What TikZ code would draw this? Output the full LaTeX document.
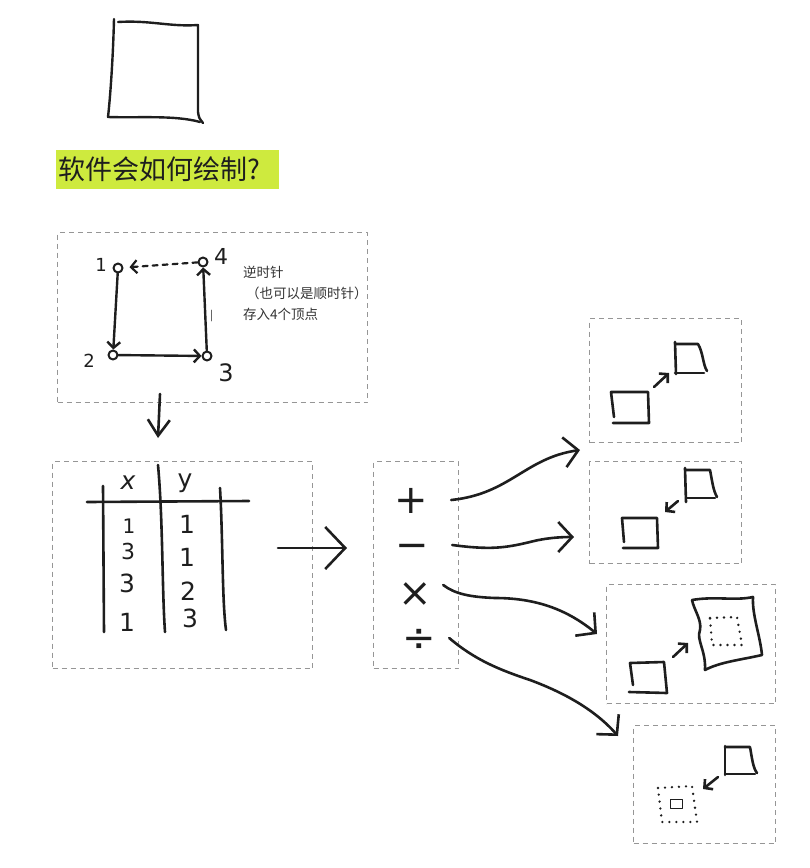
\documentclass[tikz,border=0pt]{standalone}
\usepackage{fontspec}
\newfontfamily\cjk{Noto Sans CJK SC}
\newfontfamily\kyhieu{DejaVu Sans}
\usetikzlibrary{arrows.meta}
\definecolor{nenvang}{RGB}{206,234,62}
\definecolor{xamnet}{RGB}{150,150,150}
\definecolor{mucden}{RGB}{30,30,30}
\begin{document}
\begin{tikzpicture}[x=1pt, y=-1pt, line join=round, line cap=round,
 but/.style={draw=mucden, line width=2.6pt},
 khung/.style={draw=xamnet, line width=1.1pt, dash pattern=on 5pt off 4pt, line cap=butt, rectangle, inner sep=0pt, anchor=north west},
 chamtron/.style={draw=mucden, line width=2.6pt, dash pattern=on 0pt off 7pt, line cap=round},
 dinh/.style={circle, draw=mucden, line width=2pt, inner sep=0pt, minimum size=9pt},
 so/.style={font=\kyhieu\fontsize{18}{18}\selectfont, text=mucden, inner sep=0pt},
 sobang/.style={font=\kyhieu\fontsize{25}{25}\selectfont, text=mucden, inner sep=0pt},
 pheptinh/.style={font=\kyhieu\fontsize{40}{40}\selectfont, text height=27pt, text depth=0pt, minimum width=80pt, inner sep=0pt, text=mucden},
 nho/.style={-{Straight Barb[length=6pt,width=13pt]}},
 muicong/.style={-{Straight Barb[length=14pt,width=30pt]}}]
\useasboundingbox (0,0) rectangle (810,868);
% hinh vuong ve tay o tren
\draw[but, line width=2.4pt] (118,22) .. controls (150,20) and (170,27) .. (198,25) -- (198,112) .. controls (199,118) .. (203,123);
\draw[but, line width=2.4pt] (114,19) .. controls (113,60) and (110,100) .. (108,117) .. controls (140,118) and (175,115) .. (200,122);
% tieu de
\node[fill=nenvang, anchor=north west, minimum height=39pt, text width=219pt, inner xsep=2pt, inner ysep=0pt, align=left, font=\cjk\fontsize{27}{27}\selectfont, text=mucden] (tieude) at (56,150) {软件会如何绘制?};
% cac khung net dut
\node[khung, minimum width=310pt, minimum height=170pt] (khungdinh) at (57,232) {};
\node[khung, minimum width=260pt, minimum height=207pt] (khungbang) at (52,461) {};
\node[khung, minimum width=85pt, minimum height=207pt] (khungphep) at (373,461) {};
\node[khung, minimum width=152pt, minimum height=124pt] (khungA) at (589,318) {};
\node[khung, minimum width=152pt, minimum height=102pt] (khungB) at (589,461) {};
\node[khung, minimum width=169pt, minimum height=119pt] (khungC) at (606,584) {};
\node[khung, minimum width=142pt, minimum height=118pt] (khungD) at (633,725) {};
% 4 dinh
\node[dinh] (v1) at (118,268) {};
\node[dinh] (v2) at (113,355) {};
\node[dinh] (v3) at (207,356) {};
\node[dinh] (v4) at (203,262) {};
\node[so] (so1) at (101,265) {1};
\node[so] (so2) at (89,361) {2};
\node[so, font=\kyhieu\fontsize{24}{24}\selectfont] (so3) at (226,373) {3};
\node[so, font=\kyhieu\fontsize{22}{22}\selectfont] (so4) at (221,256) {4};
\draw[but, line width=2.4pt, nho] (v1) -- (v2);
\draw[but, line width=2.4pt, nho] (v2) -- (v3);
\draw[but, line width=2.4pt, nho] (v3) -- (v4);
\draw[but, line width=2.2pt, nho, dash pattern=on 5pt off 5pt, shorten >=6pt] (v4) -- (v1);
\draw[black!60, line width=0.8pt] (211,310) -- (211,321);
\node[anchor=north west, align=left, font=\cjk\fontsize{13.5}{21}\selectfont, text=black!80, inner sep=0pt] (ghichu) at (243,266) {逆时针\\\hspace*{3pt}（也可以是顺时针）\\存入4个顶点};
% mui ten xuong
\coordinate (xuongdau) at (160,394);
\coordinate (xuongcuoi) at (158,438);
\draw[but, -{Straight Barb[length=16pt,width=22pt]}] (xuongdau) -- (xuongcuoi);
% bang toa do
\draw[but] (87,502) -- (249,501);
\draw[but] (103,486) -- (104,632);
\draw[but] (158,465) .. controls (163,520) and (162,590) .. (165,632);
\draw[but] (220,488) .. controls (223,540) and (222,600) .. (226,630);
\node[sobang, font=\kyhieu\itshape\fontsize{25}{25}\selectfont] (hx) at (128,483) {x};
\node[sobang] (hy) at (185,483) {y};
\node[sobang, font=\kyhieu\fontsize{20}{20}\selectfont] (x1) at (129,526) {1};
\node[sobang, font=\kyhieu\fontsize{22}{22}\selectfont] (x2) at (128,551) {3};
\node[sobang] (x3) at (127,583) {3};
\node[sobang] (x4) at (127,622) {1};
\node[sobang] (y1) at (187,524) {1};
\node[sobang] (y2) at (187,557) {1};
\node[sobang] (y3) at (188,591) {2};
\node[sobang] (y4) at (190,618) {3};
% mui ten ngang
\coordinate (ngangdau) at (278,548);
\coordinate (ngangcuoi) at (347,548);
\draw[but, -{Straight Barb[length=20pt,width=42pt]}] (ngangdau) -- (ngangcuoi);
% phep tinh
\node[pheptinh] (opcong) at (411,500) {+};
\node[pheptinh] (optru) at (412,545) {−};
\node[pheptinh] (opnhan) at (415,593) {×};
\node[pheptinh] (opchia) at (419,638) {÷};
\coordinate (dichA) at (580,450);
\coordinate (dichB) at (574,537);
\coordinate (dichC) at (597,634);
\coordinate (dichD) at (618,736);
\draw[but, muicong] (opcong.east) .. controls (510,494) and (525,458) .. (dichA);
\draw[but, muicong] (optru.east) .. controls (490,550) and (505,548) .. (530,542) .. controls (545,538) and (560,537) .. (dichB);
\draw[but, muicong] ([shift={(-12,-8)}]opnhan.east) .. controls (455,594) and (470,597) .. (495,598) .. controls (540,598) and (570,612) .. (dichC);
\draw[but, muicong] ([shift={(-10,0)}]opchia.east) .. controls (475,660) and (500,670) .. (530,680) .. controls (565,693) and (595,710) .. (dichD);
% khung A: phep cong
\draw[but] (614,417) -- (611,392) -- (648,392) -- (649,423) -- (613,423);
\draw[but] (675,342) -- (676,374);
\draw[but] (675,344) -- (698,344) .. controls (703,352) and (703,365) .. (707,371);
\draw[but] (675,373) -- (704,373);
\draw[but, nho] (654,387) -- (669,373);
% khung B: phep tru
\draw[but] (685,468) -- (686,502);
\draw[but] (685,470) -- (710,470) .. controls (712,480) and (713,490) .. (717,497);
\draw[but] (686,498) -- (715,498);
\draw[but, nho] (678,501) -- (665,512);
\draw[but] (624,542) -- (622,518) -- (657,518) -- (658,548) -- (623,548);
% khung C: phep nhan
\draw[but] (633,685) -- (630,663) -- (664,662) -- (667,693) -- (629,692);
\draw[but, nho] (673,657) -- (688,643);
\draw[but] (692,600) .. controls (715,596) and (735,601) .. (753,597) .. controls (752,615) and (760,635) .. (762,655) .. controls (740,660) and (720,662) .. (705,670) .. controls (706,650) and (696,640) .. (700,630) .. controls (702,620) and (694,610) .. (692,600);
\draw[chamtron] (710,618) -- (737,617) -- (742,645) -- (712,645) -- cycle;
% khung D: phep chia
\draw[but] (725,746) -- (725,775);
\draw[but] (725,747) -- (750,747) .. controls (752,758) and (753,768) .. (757,773);
\draw[but] (725,774) -- (755,774);
\draw[but, nho] (718,777) -- (703,789);
\draw[chamtron] (658,788) -- (692,786) -- (697,822) -- (662,822) -- cycle;
\draw[mucden, line width=1pt] (670,799) rectangle (682,808);
\end{tikzpicture}
\end{document}
